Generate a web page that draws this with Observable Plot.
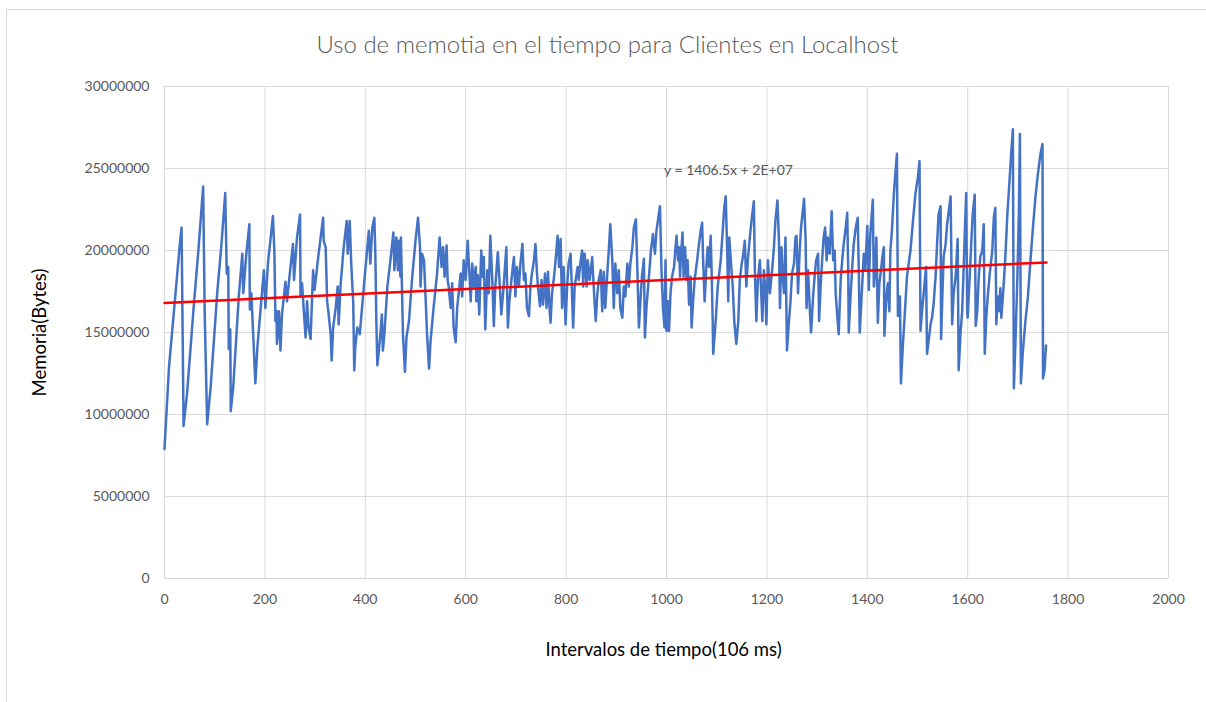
<!DOCTYPE html>
<html>
<head>
<meta charset="utf-8">
<script src="https://cdn.jsdelivr.net/npm/d3@7"></script>
<script src="https://cdn.jsdelivr.net/npm/@observablehq/plot@0.6"></script>
<style>
  html, body { margin: 0; padding: 0; background: #fff; }
  #wrap { position: relative; width: 1206px; height: 702px; overflow: hidden; }
  #frame { position: absolute; left: 6px; top: 9px; width: 1300px; height: 800px;
           border-top: 1px solid #d9d9d9; border-left: 1px solid #d9d9d9; }
  #chart { position: absolute; left: 0; top: 0; }
</style>
</head>
<body>
<div id="wrap"><div id="frame"></div><div id="chart"></div></div>
<script>
const chartTitle = "Uso de memotia en el tiempo para Clientes en Localhost";
const xLabel = "Intervalos de tiempo(106 ms)";
const yLabel = "Memoria(Bytes)";
const equationText = "y = 1406.5x + 2E+07";
const equationPos = { x: 995, y: 24900000 };

const xTicks = [0, 200, 400, 600, 800, 1000, 1200, 1400, 1600, 1800, 2000];
const yTicks = [0, 5000000, 10000000, 15000000, 20000000, 25000000, 30000000];

// trend line (linear regression shown in the chart)
const trendSlope = 1406.5;
const trendIntercept = 16800000;
const trendX = [0, 1757];

// memory samples: [interval, memory in millions of bytes]
const samples = [
[0,7.9],[9,12.9],[22,17.4],[30,20.2],[34,21.4],[38,9.3],[45,11.3],[58,16.5],[68,20.2],[77,23.9],
[80,16.3],[85,9.4],[92,11.7],[105,17.4],[113,20.2],[121,23.5],[124,18.6],[127,19.0],[128,14.0],[131,15.2],
[132,10.2],[137,11.7],[148,17.2],[155,19.8],[157,17.4],[163,19.8],[169,21.6],[170,16.4],[173,17.4],[181,11.9],
[185,14.1],[198,18.8],[201,16.5],[206,19.2],[216,22.1],[219,19.8],[221,15.7],[223,16.3],[224,14.3],[228,16.3],
[231,13.9],[234,16.1],[241,18.1],[244,16.9],[251,19.0],[256,20.4],[258,18.2],[264,20.8],[270,22.2],[271,17.2],
[274,18.0],[278,16.1],[281,14.7],[284,16.9],[287,15.3],[291,14.6],[296,18.8],[299,17.6],[307,19.8],[316,22.0],
[317,20.6],[321,20.2],[324,16.9],[327,16.1],[331,14.9],[333,13.3],[336,15.3],[341,16.5],[345,17.8],[347,15.5],
[351,18.0],[357,20.2],[363,21.8],[365,19.8],[369,21.8],[372,19.2],[376,16.8],[378,12.7],[380,14.1],[384,15.3],
[389,14.9],[400,18.8],[407,21.2],[410,19.2],[414,21.4],[418,22.0],[420,19.8],[422,15.7],[424,13.0],[427,13.9],
[430,14.9],[433,16.1],[435,13.9],[438,14.9],[444,17.8],[450,19.4],[456,21.1],[458,18.8],[462,20.8],[465,18.8],
[467,20.6],[470,18.4],[471,20.8],[473,17.8],[475,14.9],[479,12.6],[482,14.7],[487,15.7],[493,18.2],[500,20.6],
[505,22.0],[509,20.2],[510,17.8],[513,19.8],[517,19.4],[520,17.2],[523,14.9],[527,12.8],[530,14.5],[536,16.5],
[543,18.6],[548,20.8],[552,19.0],[555,20.2],[558,18.4],[562,20.3],[564,18.2],[566,17.8],[570,16.5],[573,18.0],
[576,15.3],[580,14.4],[583,16.5],[586,17.4],[590,18.6],[593,17.2],[596,19.4],[600,18.2],[604,20.6],[608,18.2],
[610,16.9],[613,19.2],[616,17.8],[620,19.0],[621,16.9],[624,18.5],[627,16.1],[631,20.0],[634,18.4],[636,19.6],
[639,15.2],[643,18.8],[646,17.4],[649,20.9],[653,18.2],[656,15.4],[659,17.8],[664,19.9],[668,17.8],[671,16.1],
[675,17.6],[681,20.2],[684,15.3],[687,16.9],[691,18.2],[696,19.6],[699,17.2],[702,19.0],[706,17.8],[709,19.2],
[713,20.4],[716,18.2],[719,18.6],[722,16.5],[726,16.0],[729,17.8],[732,18.6],[736,19.4],[739,20.4],[742,18.6],
[744,17.8],[748,16.6],[751,18.2],[754,16.7],[758,18.6],[761,16.5],[764,18.7],[767,16.5],[769,15.6],[772,17.4],
[776,18.4],[779,19.4],[783,20.9],[786,19.0],[789,20.7],[792,16.5],[795,19.0],[799,15.5],[802,17.8],[805,19.2],
[809,19.8],[812,17.2],[814,15.3],[817,17.8],[820,18.4],[823,19.0],[825,18.2],[829,19.4],[832,20.0],[834,17.8],
[837,19.8],[841,17.8],[843,19.4],[847,18.2],[852,19.6],[855,17.8],[859,15.7],[862,17.2],[865,18.2],[869,18.8],
[872,16.3],[875,18.7],[878,16.5],[882,18.6],[885,20.0],[888,21.6],[892,19.4],[895,16.5],[898,19.2],[902,17.4],
[905,18.8],[908,16.5],[912,15.9],[915,17.8],[918,17.2],[922,19.2],[925,17.8],[928,19.2],[932,20.2],[935,21.4],
[939,21.9],[942,18.8],[945,15.3],[948,16.9],[951,18.4],[955,19.5],[957,14.7],[960,16.5],[965,18.4],[969,20.0],
[973,21.0],[977,19.8],[980,21.2],[987,22.7],[990,18.8],[993,16.5],[996,15.3],[998,19.4],[1000,15.1],[1003,16.9],
[1005,15.1],[1008,17.4],[1011,18.4],[1015,19.0],[1018,20.2],[1020,20.9],[1023,19.4],[1025,20.2],[1027,18.4],[1029,19.8],
[1032,21.1],[1034,18.4],[1037,20.2],[1040,18.2],[1042,19.4],[1045,16.7],[1048,18.4],[1050,15.3],[1053,16.9],[1056,18.2],
[1061,19.4],[1064,20.2],[1068,21.2],[1071,21.7],[1073,19.4],[1076,16.9],[1079,18.8],[1082,20.2],[1085,19.0],[1088,20.9],
[1090,18.6],[1092,15.7],[1093,13.7],[1098,15.7],[1102,17.8],[1108,19.4],[1112,21.2],[1115,22.6],[1118,23.3],[1121,19.8],
[1123,16.9],[1125,20.8],[1129,19.0],[1132,17.8],[1135,15.7],[1139,14.3],[1143,15.7],[1146,18.2],[1149,19.0],[1153,19.8],
[1156,20.6],[1159,17.8],[1162,19.4],[1166,20.8],[1170,22.0],[1174,23.0],[1176,18.8],[1179,15.7],[1182,18.2],[1186,19.4],
[1191,15.7],[1194,18.8],[1197,17.4],[1199,15.5],[1202,19.4],[1206,17.4],[1211,19.0],[1214,20.2],[1217,21.8],[1221,23.05],
[1224,20.6],[1226,16.5],[1229,20.2],[1231,18.6],[1234,17.4],[1237,20.8],[1240,13.9],[1244,15.7],[1247,16.9],[1250,18.6],
[1254,19.2],[1257,20.8],[1259,20.9],[1262,17.4],[1265,19.8],[1268,21.4],[1274,23.15],[1277,20.8],[1279,16.5],[1282,18.8],
[1286,16.1],[1288,15.0],[1292,17.2],[1295,18.4],[1298,19.4],[1302,19.8],[1304,15.7],[1307,17.8],[1310,19.4],[1313,20.8],
[1316,21.4],[1319,19.4],[1321,20.8],[1325,19.8],[1329,22.4],[1332,19.4],[1335,20.0],[1337,17.4],[1340,16.1],[1343,14.9],
[1347,18.2],[1350,19.4],[1353,20.4],[1357,21.4],[1360,22.3],[1362,18.8],[1363,15.0],[1367,17.4],[1370,19.0],[1373,20.4],
[1377,21.4],[1381,22.0],[1383,18.8],[1385,15.0],[1390,18.0],[1393,19.8],[1396,18.8],[1400,21.5],[1403,17.6],[1406,21.0],
[1411,23.1],[1413,17.8],[1416,19.0],[1418,20.8],[1421,15.6],[1424,18.0],[1428,19.0],[1430,19.6],[1433,20.2],[1434,14.8],
[1438,17.2],[1441,18.0],[1444,16.3],[1446,20.0],[1449,21.2],[1453,23.5],[1456,24.7],[1459,25.9],[1461,16.0],[1465,17.2],
[1467,11.9],[1471,14.3],[1475,16.3],[1479,18.4],[1486,20.0],[1491,21.8],[1496,23.5],[1501,24.5],[1504,25.45],[1506,15.1],
[1509,16.3],[1513,17.6],[1517,19.0],[1519,13.7],[1523,14.7],[1526,15.5],[1529,15.9],[1532,16.7],[1536,18.4],[1539,20.4],
[1542,22.2],[1546,22.7],[1547,14.6],[1549,16.7],[1552,19.6],[1556,20.4],[1559,21.6],[1566,23.3],[1569,15.5],[1572,17.4],
[1576,18.4],[1580,20.7],[1582,12.7],[1586,15.1],[1589,16.3],[1592,19.0],[1597,23.5],[1599,16.3],[1600,15.9],[1604,18.4],
[1607,20.4],[1610,22.2],[1614,23.4],[1616,15.4],[1619,16.3],[1622,18.4],[1625,19.6],[1629,20.0],[1632,21.6],[1634,13.7],
[1637,15.9],[1640,17.2],[1644,18.6],[1649,20.0],[1652,22.0],[1655,22.6],[1657,15.5],[1660,17.2],[1662,16.3],[1665,17.7],
[1667,15.9],[1671,17.6],[1675,19.6],[1679,22.2],[1683,24.1],[1687,26.1],[1690,27.4],[1692,11.6],[1695,14.3],[1699,18.4],
[1702,22.4],[1704,27.1],[1706,11.9],[1710,13.9],[1715,15.7],[1720,17.2],[1725,19.4],[1730,21.4],[1735,23.3],[1740,24.7],
[1745,25.9],[1749,26.5],[1750,12.2],[1753,12.7],[1756,14.2]
];

const data = samples.map(([x, m]) => ({ x, y: m * 1e6 }));
const trend = trendX.map(x => ({ x, y: trendIntercept + trendSlope * x }));

const gray = "#595959";
const plot = Plot.plot({
  width: 1206,
  height: 702,
  marginLeft: 164,
  marginRight: 38,
  marginTop: 86,
  marginBottom: 124,
  style: { fontFamily: "Lato, 'Open Sans', sans-serif", fontSize: "13px", background: "transparent", overflow: "visible" },
  x: { domain: [0, 2000], ticks: xTicks, label: null },
  y: { domain: [0, 30000000], ticks: yTicks, label: null },
  marks: [
    Plot.gridX(xTicks, { stroke: "#d9d9d9", strokeOpacity: 1, strokeWidth: 1 }),
    Plot.gridY(yTicks, { stroke: "#d9d9d9", strokeOpacity: 1, strokeWidth: 1 }),
    Plot.axisX({ ticks: xTicks, tickSize: 0, tickPadding: 16, tickFormat: d3.format("d"), fill: gray, fontSize: 14, label: null }),
    Plot.axisY({ ticks: yTicks, tickSize: 0, tickPadding: 15, tickFormat: d3.format("d"), fill: gray, fontSize: 14, label: null }),
    Plot.line(data, { x: "x", y: "y", stroke: "#4472C4", strokeWidth: 2.5, strokeLinejoin: "round" }),
    Plot.line(trend, { x: "x", y: "y", stroke: "#FF0000", strokeWidth: 2.5 }),
    Plot.text([equationText], { x: () => equationPos.x, y: () => equationPos.y, textAnchor: "start", fill: gray, fontSize: 14 }),
    Plot.text([chartTitle], { frameAnchor: "top", dx: -59, dy: -41, lineAnchor: "middle", textAnchor: "middle", fill: gray, fontSize: 24, fontWeight: 300 }),
    Plot.text([xLabel], { frameAnchor: "bottom", dx: -3, dy: 72, lineAnchor: "middle", textAnchor: "middle", fill: "#000", fontSize: 18.5 }),
    Plot.text([yLabel], { frameAnchor: "left", dx: -124, rotate: -90, lineAnchor: "middle", textAnchor: "middle", fill: "#000", fontSize: 18.5 })
  ]
});
document.getElementById("chart").appendChild(plot);
</script>
</body>
</html>
